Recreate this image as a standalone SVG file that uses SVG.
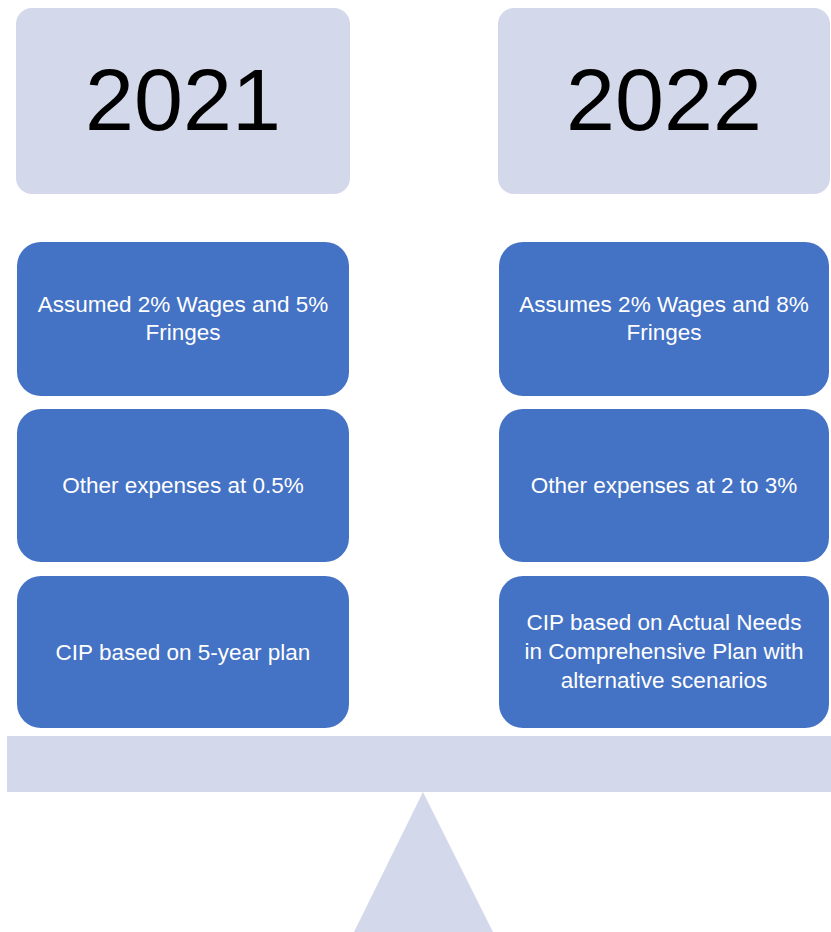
<svg xmlns="http://www.w3.org/2000/svg" width="831" height="932" viewBox="0 0 831 932">
  <style>
    .year { fill: #D3D8EA; }
    .item { fill: #4472C4; }
    .yt { font-family: "Liberation Sans", Arial, sans-serif; font-size: 88px; fill: #000; text-anchor: middle; }
    .it { font-family: "Liberation Sans", Arial, sans-serif; font-size: 22.5px; fill: #fff; text-anchor: middle; }
    .scale { fill: #D3D8EA; }
  </style>
  <rect width="831" height="932" fill="#fff"/>

  <!-- year headers -->
  <g id="year2021">
    <rect class="year" x="16" y="8" width="334" height="186" rx="16"/>
    <text class="yt" x="183" y="130">2021</text>
  </g>
  <g id="year2022">
    <rect class="year" x="498" y="8" width="332" height="186" rx="16"/>
    <text class="yt" x="664" y="130">2022</text>
  </g>

  <!-- 2021 column -->
  <g id="wages2021">
    <rect class="item" x="17" y="242" width="332" height="154" rx="24"/>
    <text class="it" x="183" y="312">Assumed 2% Wages and 5%</text>
    <text class="it" x="183" y="340">Fringes</text>
  </g>
  <g id="other2021">
    <rect class="item" x="17" y="409" width="332" height="153" rx="24"/>
    <text class="it" x="183" y="493">Other expenses at 0.5%</text>
  </g>
  <g id="cip2021">
    <rect class="item" x="17" y="576" width="332" height="152" rx="24"/>
    <text class="it" x="183" y="660">CIP based on 5-year plan</text>
  </g>

  <!-- 2022 column -->
  <g id="wages2022">
    <rect class="item" x="499" y="242" width="330" height="154" rx="24"/>
    <text class="it" x="664" y="312">Assumes 2% Wages and 8%</text>
    <text class="it" x="664" y="340">Fringes</text>
  </g>
  <g id="other2022">
    <rect class="item" x="499" y="409" width="330" height="153" rx="24"/>
    <text class="it" x="664" y="493">Other expenses at 2 to 3%</text>
  </g>
  <g id="cip2022">
    <rect class="item" x="499" y="576" width="330" height="152" rx="24"/>
    <text class="it" x="664" y="630">CIP based on Actual Needs</text>
    <text class="it" x="664" y="659">in Comprehensive Plan with</text>
    <text class="it" x="664" y="688">alternative scenarios</text>
  </g>

  <!-- balance beam and fulcrum -->
  <g id="balance">
    <rect class="scale" x="7" y="736" width="824" height="56"/>
    <polygon class="scale" points="423,792 493,932 354,932"/>
  </g>
  <g id="connectors"/>
</svg>
